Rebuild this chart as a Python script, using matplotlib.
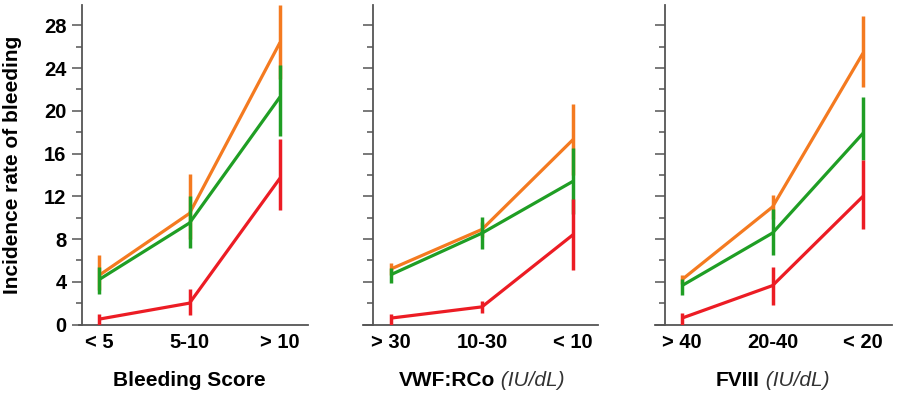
import matplotlib.pyplot as plt
from matplotlib.ticker import MultipleLocator

plt.rcParams['font.family'] = ['Liberation Sans', 'DejaVu Sans']

# category labels for each panel
cats_bs = ['< 5', '5-10', '> 10']
cats_vwf = ['> 30', '10-30', '< 10']
cats_f8 = ['> 40', '20-40', '< 20']

# Bleeding Score panel
bs_orange = [4.6, 10.4, 26.4]
bs_orange_lo = [3.2, 8.0, 23.0]
bs_orange_hi = [6.5, 14.1, 29.9]
bs_green = [4.2, 9.5, 21.3]
bs_green_lo = [2.9, 7.2, 17.6]
bs_green_hi = [5.4, 12.0, 24.3]
bs_red = [0.5, 2.0, 13.7]
bs_red_lo = [0.0, 0.9, 10.7]
bs_red_hi = [1.0, 3.3, 17.4]

# VWF:RCo panel
vwf_orange = [5.2, 8.9, 17.3]
vwf_orange_lo = [4.6, 8.2, 14.0]
vwf_orange_hi = [5.8, 9.6, 20.6]
vwf_green = [4.67, 8.55, 13.4]
vwf_green_lo = [3.9, 7.1, 10.3]
vwf_green_hi = [5.3, 10.1, 16.5]
vwf_red = [0.6, 1.65, 8.4]
vwf_red_lo = [0.0, 1.1, 5.1]
vwf_red_hi = [1.0, 2.2, 11.7]

# FVIII panel
f8_orange = [4.2, 11.0, 25.4]
f8_orange_lo = [3.8, 9.9, 22.2]
f8_orange_hi = [4.6, 12.1, 28.9]
f8_green = [3.64, 8.56, 17.9]
f8_green_lo = [2.8, 6.5, 15.4]
f8_green_hi = [4.26, 10.8, 21.3]
f8_red = [0.6, 3.64, 12.0]
f8_red_lo = [0.0, 1.87, 8.9]
f8_red_hi = [1.1, 5.35, 15.4]

c_orange = '#f47a20'
c_green = '#1f9e24'
c_red = '#ec1c24'

panels = [
    (cats_bs, 'Bleeding Score', None,
     [(bs_orange, bs_orange_lo, bs_orange_hi, c_orange),
      (bs_green, bs_green_lo, bs_green_hi, c_green),
      (bs_red, bs_red_lo, bs_red_hi, c_red)]),
    (cats_vwf, 'VWF:RCo', '(IU/dL)',
     [(vwf_orange, vwf_orange_lo, vwf_orange_hi, c_orange),
      (vwf_green, vwf_green_lo, vwf_green_hi, c_green),
      (vwf_red, vwf_red_lo, vwf_red_hi, c_red)]),
    (cats_f8, 'FVIII', '(IU/dL)',
     [(f8_orange, f8_orange_lo, f8_orange_hi, c_orange),
      (f8_green, f8_green_lo, f8_green_hi, c_green),
      (f8_red, f8_red_lo, f8_red_hi, c_red)]),
]

# axes boxes in pixels: (left, right), spine x, xlim
boxes = [
    (79, 308, 0.012, (-0.221, 2.309)),
    (363, 598, 0.041, (-0.308, 2.275)),
    (655, 892, 0.042, (-0.298, 2.32)),
]

W, H = 900, 394
fig = plt.figure(figsize=(9, 3.94), dpi=100)

label_parts = []
for i, ((cats, lab_b, lab_i, series), (x0, x1, spx, xl)) in enumerate(zip(panels, boxes)):
    ax = fig.add_axes([x0 / W, 1 - 324.5 / H, (x1 - x0) / W, (324.5 - 5) / H])
    xs = range(len(cats))
    for vals, lo, hi, col in series:
        ax.plot(xs, vals, color=col, lw=2.3, solid_capstyle='butt', zorder=3)
        ax.vlines(xs, lo, hi, color=col, lw=2.5, zorder=3)
    ax.set_xlim(*xl)
    ax.set_ylim(0, 29.9)
    for s in ['top', 'right']:
        ax.spines[s].set_visible(False)
    ax.spines['left'].set_position(('axes', spx))
    ax.spines['left'].set_color('#555555')
    ax.spines['bottom'].set_color('#555555')
    ax.spines['left'].set_linewidth(1.3)
    ax.spines['bottom'].set_linewidth(1.3)
    ax.set_xticks(list(xs))
    ax.set_xticklabels(cats, fontsize=14.5, fontweight='bold')
    ax.tick_params(axis='x', length=0, pad=6)
    ax.yaxis.set_major_locator(MultipleLocator(4))
    ax.yaxis.set_minor_locator(MultipleLocator(2))
    ax.tick_params(axis='y', which='major', length=7, width=1.1, color='#555555',
                   labelsize=14.5, pad=4)
    ax.tick_params(axis='y', which='minor', length=4, width=1.1, color='#555555')
    if i == 0:
        for t in ax.get_yticklabels():
            t.set_fontweight('bold')
        ax.set_ylabel('Incidence rate of bleeding', fontsize=15, fontweight='bold')
        ax.yaxis.set_label_coords(-0.25, 0.5)
    else:
        ax.set_yticklabels([])
    # x label, centered on middle category
    xc_px = x0 + (1 - xl[0]) / (xl[1] - xl[0]) * (x1 - x0)
    tb = fig.text(xc_px / W, 1 - 380 / H, lab_b, fontsize=15, fontweight='bold',
                  ha='center', va='center')
    ti = None
    if lab_i:
        ti = fig.text(xc_px / W, 1 - 380 / H, ' ' + lab_i, fontsize=15,
                      fontstyle='italic', color='#333333', ha='left', va='center')
    label_parts.append((xc_px, tb, ti))

fig.canvas.draw()
r = fig.canvas.get_renderer()
for xc_px, tb, ti in label_parts:
    if ti is None:
        continue
    wb = tb.get_window_extent(r).width
    wi = ti.get_window_extent(r).width
    left = xc_px - (wb + wi) / 2
    tb.set_ha('left')
    tb.set_x(left / W)
    ti.set_x((left + wb) / W)

fig.savefig('out.png', dpi=100)
